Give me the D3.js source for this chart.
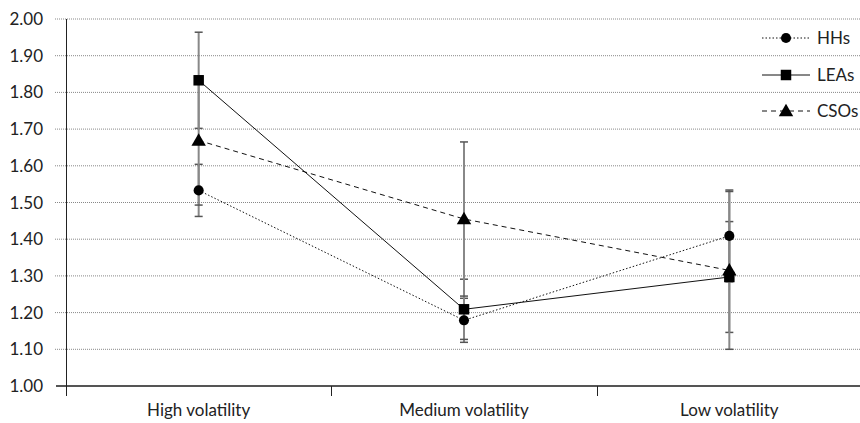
<!DOCTYPE html>
<html>
<head>
<meta charset="utf-8">
<script src="https://cdn.jsdelivr.net/npm/d3@7"></script>
<style>
  body { margin: 0; background: #fff; }
  svg { font-family: Lato, "Open Sans", sans-serif; }
</style>
</head>
<body>
<div id="chart"></div>
<script>
const categories = ["High volatility", "Medium volatility", "Low volatility"]
const seriesNames = ["HHs", "LEAs", "CSOs"]
const hhsMean = [1.533, 1.179, 1.409]
const hhsErr = [0.071, 0.060, 0.125]
const leasMean = [1.833, 1.209, 1.297]
const leasErr = [0.131, 0.082, 0.151]
const csosMean = [1.669, 1.455, 1.315]
const csosErr = [0.176, 0.210, 0.215]
const yTicks = [1.0, 1.1, 1.2, 1.3, 1.4, 1.5, 1.6, 1.7, 1.8, 1.9, 2.0]

const width = 860, height = 423
const margin = {top: 19, right: 0, bottom: 37, left: 66}

const svg = d3.select("#chart").append("svg")
    .attr("width", width).attr("height", height)

const x = d3.scaleBand().domain(categories).range([margin.left, width + 2])
const y = d3.scaleLinear().domain([1, 2]).range([height - margin.bottom, margin.top])

// gridlines (dotted), running a bit left of the axis as ticks
svg.append("g").selectAll("line").data(yTicks.slice(1)).enter()
    .append("line")
    .attr("x1", 55).attr("x2", width)
    .attr("y1", d => y(d)).attr("y2", d => y(d))
    .attr("stroke", "#888").attr("stroke-width", 1)
    .attr("stroke-dasharray", "1,1")

// y tick labels
svg.append("g").selectAll("text").data(yTicks).enter()
    .append("text")
    .attr("x", 43).attr("y", d => y(d) + 6)
    .attr("text-anchor", "end").attr("font-size", 17).attr("fill", "#222")
    .text(d => d.toFixed(2))

// x axis line
svg.append("line")
    .attr("x1", 56).attr("x2", width)
    .attr("y1", y(1)).attr("y2", y(1))
    .attr("stroke", "#555").attr("stroke-width", 2)

// category separators
svg.append("g").selectAll("line").data(categories).enter()
    .append("line")
    .attr("x1", d => Math.round(x(d)) + 0.5).attr("x2", d => Math.round(x(d)) + 0.5)
    .attr("y1", y(1)).attr("y2", y(1) + 10)
    .attr("stroke", "#222").attr("stroke-width", 1)

// y axis line
svg.append("line")
    .attr("x1", margin.left + 0.5).attr("x2", margin.left + 0.5)
    .attr("y1", y(2)).attr("y2", y(1) + 10)
    .attr("stroke", "#222").attr("stroke-width", 1)

// category labels
svg.append("g").selectAll("text").data(categories).enter()
    .append("text")
    .attr("x", d => x(d) + x.bandwidth() / 2).attr("y", height - 7)
    .attr("text-anchor", "middle").attr("font-size", 17).attr("fill", "#222")
    .text(d => d)

const series = [
    {name: seriesNames[0], mean: hhsMean, err: hhsErr, dash: "1.5,2", sym: d3.symbolCircle, size: 80},
    {name: seriesNames[1], mean: leasMean, err: leasErr, dash: null, sym: d3.symbolSquare, size: 110},
    {name: seriesNames[2], mean: csosMean, err: csosErr, dash: "5,4", sym: d3.symbolTriangle, size: 90}
]
const cx = c => x(c) + x.bandwidth() / 2

// error bars
series.forEach(s => {
    let g = svg.append("g")
    categories.forEach((c, i) => {
        let hi = s.mean[i] + s.err[i], lo = s.mean[i] - s.err[i]
        g.append("line")
            .attr("x1", cx(c)).attr("x2", cx(c))
            .attr("y1", y(hi)).attr("y2", y(lo))
            .attr("stroke", "#888").attr("stroke-width", 2)
        ;[hi, lo].forEach(v => {
            g.append("line")
                .attr("x1", cx(c) - 4).attr("x2", cx(c) + 4)
                .attr("y1", y(v)).attr("y2", y(v))
                .attr("stroke", "#555").attr("stroke-width", 1.5)
        })
    })
})

// lines
const line = d3.line().x((d, i) => cx(categories[i])).y(d => y(d))
series.forEach(s => {
    svg.append("path")
        .attr("d", line(s.mean))
        .attr("fill", "none").attr("stroke", "#111").attr("stroke-width", 1)
        .attr("stroke-dasharray", s.dash)
})

// markers
series.forEach(s => {
    svg.append("g").selectAll("path").data(s.mean).enter()
        .append("path")
        .attr("d", d3.symbol().type(s.sym).size(s.size))
        .attr("transform", (d, i) => `translate(${cx(categories[i])},${y(d) + (s.sym === d3.symbolTriangle ? 1 : 0)})`)
        .attr("fill", "#000")
})

// legend
const legY = [38, 75, 111]
series.forEach((s, i) => {
    let g = svg.append("g").attr("transform", `translate(0,${legY[i]})`)
    g.append("line")
        .attr("x1", 762).attr("x2", 810).attr("y1", 0).attr("y2", 0)
        .attr("stroke", "#111").attr("stroke-width", 1)
        .attr("stroke-dasharray", s.dash)
    g.append("path")
        .attr("d", d3.symbol().type(s.sym).size(s.size))
        .attr("transform", `translate(786,${s.sym === d3.symbolTriangle ? 1 : 0})`)
        .attr("fill", "#000")
    g.append("text")
        .attr("x", 817).attr("y", 6)
        .attr("font-size", 17).attr("fill", "#222")
        .text(s.name)
})
</script>
</body>
</html>
